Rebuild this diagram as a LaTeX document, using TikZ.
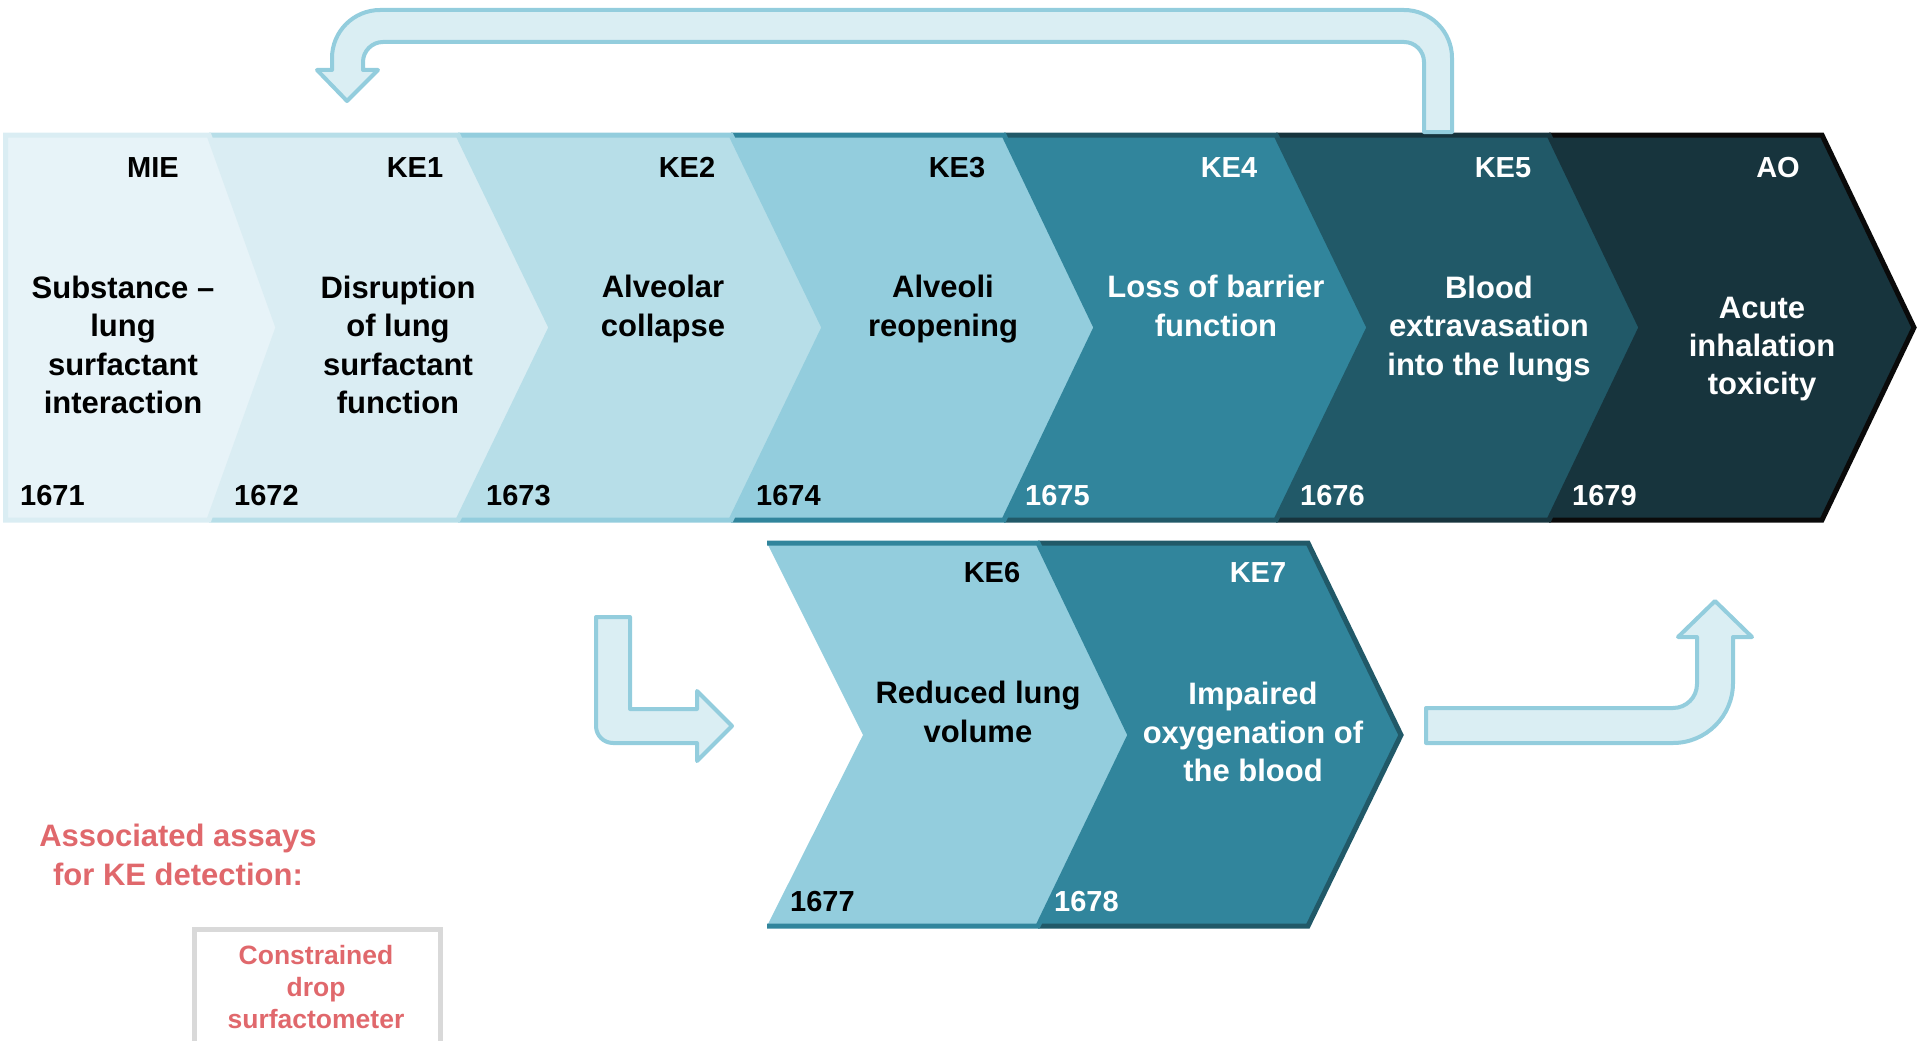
\documentclass[tikz,border=0pt]{standalone}
\usepackage{fontspec}
\setmainfont{Liberation Sans}
\definecolor{cA}{HTML}{E7F3F8}
\definecolor{cB}{HTML}{DAEDF3}
\definecolor{cC}{HTML}{B7DEE8}
\definecolor{cD}{HTML}{93CDDD}
\definecolor{cE}{HTML}{31859C}
\definecolor{cF}{HTML}{215968}
\definecolor{cG}{HTML}{17343D}
\definecolor{cH}{HTML}{0A0A0A}
\definecolor{arrowfill}{HTML}{DAEEF3}
\definecolor{arrowline}{HTML}{93CDDD}
\definecolor{assayred}{HTML}{E0686C}
\definecolor{boxgray}{HTML}{D9D9D9}
\tikzset{
  lbl/.style={font=\bfseries\fontsize{29}{34}\selectfont, inner sep=0pt, anchor=base},
  body/.style={font=\bfseries\fontsize{31}{38.3}\selectfont, align=center, inner sep=0pt},
  num/.style={font=\bfseries\fontsize{29}{34}\selectfont, anchor=base west, inner sep=0pt},
  small/.style={font=\bfseries\fontsize{26.5}{32}\selectfont, align=center, inner sep=0pt},
  barrow/.style={draw=arrowline, fill=arrowfill, line width=4pt, line join=round},
  edge/.style={line width=5pt, line join=miter}
}
\begin{document}
\begin{tikzpicture}[x=1pt,y=-1pt]
\useasboundingbox (0,0) rectangle (1920,1041);
\clip (0,0) rectangle (1920,1041);

% ---------- main row (drawn right to left) ----------
% AO
\fill[cG] (1549,135) -- (1822,135) -- (1914,327.5) -- (1822,520) -- (1549,520) -- (1641,327.5) -- cycle;
\draw[edge, draw=cH] (1549,135) -- (1822,135) -- (1914,327.5) -- (1822,520) -- (1549,520);
% KE5
\fill[cF] (1276,135) -- (1549,135) -- (1641,327.5) -- (1549,520) -- (1276,520) -- (1369,327.5) -- cycle;
\draw[edge, draw=cG] (1276,135) -- (1549,135) -- (1641,327.5) -- (1549,520) -- (1276,520);
% KE4
\fill[cE] (1004,135) -- (1276,135) -- (1369,327.5) -- (1276,520) -- (1004,520) -- (1096,327.5) -- cycle;
\draw[edge, draw=cF] (1004,135) -- (1276,135) -- (1369,327.5) -- (1276,520) -- (1004,520);
% KE3
\fill[cD] (731,135) -- (1004,135) -- (1096,327.5) -- (1004,520) -- (731,520) -- (824,327.5) -- cycle;
\draw[edge, draw=cE] (731,135) -- (1004,135) -- (1096,327.5) -- (1004,520) -- (731,520);
% KE2
\fill[cC] (458,135) -- (731,135) -- (824,327.5) -- (731,520) -- (458,520) -- (551,327.5) -- cycle;
\draw[edge, draw=cD] (458,135) -- (731,135) -- (824,327.5) -- (731,520) -- (458,520);
% KE1
\fill[cB] (209,135) -- (458,135) -- (551,327.5) -- (458,520) -- (209,520) -- (278,327.5) -- cycle;
\draw[edge, draw=cC] (209,135) -- (458,135) -- (551,327.5) -- (458,520) -- (209,520);
% MIE
\fill[cA] (5.5,135) -- (209,135) -- (278,327.5) -- (209,520) -- (5.5,520) -- cycle;
\draw[edge, draw=cB] (5.5,135) -- (209,135) -- (278,327.5) -- (209,520) -- (5.5,520) -- cycle;

% ---------- lower row ----------
\fill[cE] (1038,543) -- (1308,543) -- (1401,735) -- (1308,926) -- (1038,926) -- (1130,735) -- cycle;
\draw[edge, draw=cF] (1038,543) -- (1308,543) -- (1401,735) -- (1308,926) -- (1038,926);
\fill[cD] (767,543) -- (1038,543) -- (1130,735) -- (1038,926) -- (767,926) -- (863,735) -- cycle;
\draw[edge, draw=cE] (767,543) -- (1038,543) -- (1130,735) -- (1038,926) -- (767,926);

% ---------- labels ----------
\node[lbl] (lMIE) at (153,177) {MIE};
\node[lbl] (lKE1) at (415,177) {KE1};
\node[lbl] (lKE2) at (687,177) {KE2};
\node[lbl] (lKE3) at (957,177) {KE3};
\node[lbl, text=white] (lKE4) at (1229,177) {KE4};
\node[lbl, text=white] (lKE5) at (1503,177) {KE5};
\node[lbl, text=white] (lAO) at (1778,177) {AO};
\node[lbl] (lKE6) at (992,582) {KE6};
\node[lbl, text=white] (lKE7) at (1258,582) {KE7};

% ---------- body texts ----------
\node[body] (tMIE) at (123,345) {Substance –\\lung\\surfactant\\interaction};
\node[body] (tKE1) at (398,345) {Disruption\\of lung\\surfactant\\function};
\node[body] (tKE2) at (663,309) {Alveolar\\collapse};
\node[body] (tKE3) at (943,309) {Alveoli\\reopening};
\node[body, text=white] (tKE4) at (1216,306) {Loss of barrier\\function};
\node[body, text=white] (tKE5) at (1489,329) {Blood\\extravasation\\into the lungs};
\node[body, text=white] (tAO) at (1762,349) {Acute\\inhalation\\toxicity};
\node[body] (tKE6) at (978,712) {Reduced lung\\volume};
\node[body, text=white] (tKE7) at (1253,732) {Impaired\\oxygenation of\\the blood};

% ---------- ids ----------
\node[num] (n1671) at (20,505) {1671};
\node[num] (n1672) at (234,505) {1672};
\node[num] (n1673) at (486,505) {1673};
\node[num] (n1674) at (756,505) {1674};
\node[num, text=white] (n1675) at (1025,505) {1675};
\node[num, text=white] (n1676) at (1300,505) {1676};
\node[num, text=white] (n1679) at (1572,505) {1679};
\node[num] (n1677) at (790,911) {1677};
\node[num, text=white] (n1678) at (1054,911) {1678};

% ---------- block arrows ----------
% U-turn arrow (feedback from KE5 back to KE1)
\draw[barrow] (1452,132) -- (1452,58) .. controls (1452,31.5) and (1430.5,10) .. (1404,10)
  -- (380,10) .. controls (353.5,10) and (332,31.5) .. (332,58)
  -- (332,70) -- (317,70) -- (347,101) -- (378,70) -- (363,70) -- (363,62)
  .. controls (363,51) and (372,42) .. (383,42)
  -- (1404,42) .. controls (1415,42) and (1424,51) .. (1424,62)
  -- (1424,132) -- cycle;
% bent arrow into lower row
\draw[barrow] (596,617) -- (630,617) -- (630,709) -- (697,709) -- (697,691) -- (732,726)
  -- (697,761) -- (697,743) -- (613,743) .. controls (603.6,743) and (596,735.4) .. (596,726) -- cycle;
% bent arrow up to AO
\draw[barrow] (1426,708) -- (1673,708) .. controls (1686.3,708) and (1697,697.3) .. (1697,684)
  -- (1697,637) -- (1678,637) -- (1715,601) -- (1752,637) -- (1733,637) -- (1733,683)
  .. controls (1733,716.1) and (1706.1,743) .. (1673,743) -- (1426,743) -- cycle;

% ---------- assays ----------
\node[body, text=assayred] (assay) at (178,855) {Associated assays\\for KE detection:};
\draw[boxgray, line width=5pt] (194,929.5) rectangle (440,1080);
\node[small, text=assayred] (cds) at (316,987) {Constrained\\drop\\surfactometer};
\end{tikzpicture}
\end{document}
